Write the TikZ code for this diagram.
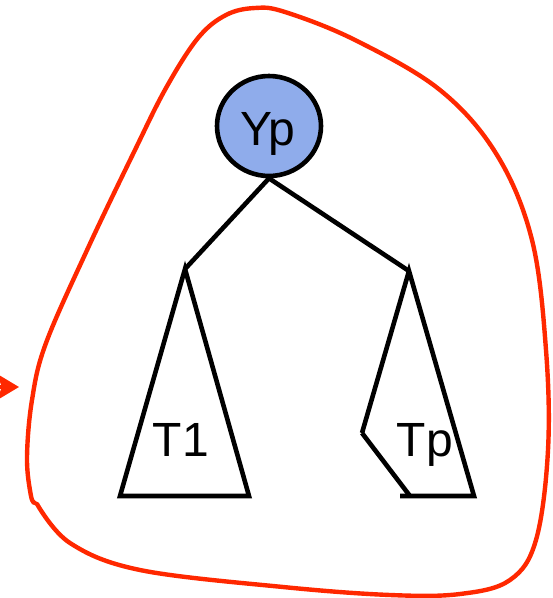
\documentclass[tikz,border=0pt]{standalone}
\usepackage{fontspec}
\setmainfont{Liberation Sans}
\usetikzlibrary{shapes.geometric,arrows.meta}
\definecolor{blobred}{RGB}{255,40,0}
\definecolor{nodeblue}{RGB}{143,172,235}
\begin{document}
\begin{tikzpicture}[x=1pt,y=-1pt,
  edge/.style={draw=black,line width=4.6pt},
  rootnode/.style={ellipse,draw=black,line width=4.6pt,fill=nodeblue,minimum width=104pt,minimum height=100pt,inner sep=0pt},
  lbl/.style={font=\fontsize{48}{56}\selectfont,inner sep=0pt,anchor=base},
  blob/.style={draw=blobred,line width=4.4pt,line cap=round}]
\useasboundingbox (0,0) rectangle (553,598);
% red outline
\draw[blob] plot[smooth,tension=0.6] coordinates {
 (37,504) (70,543) (140,570) (283,587) (390,595) (460,594) (510,580) (536,540)
 (548,450) (546,350) (532,240) (497,155) (440,90) (355,40) (285,12) (255,8)
 (226,15) (198,38) (166,88) (134,152) (88,248) (46,343) (32,400) (27,458) (31,496) (35,503)};
% red arrow from the left
\coordinate (arrS) at (-40,387);
\coordinate (arrE) at (19,387);
\draw[blobred,line width=4pt,-{Stealth[length=22pt,width=26pt,inset=5pt]}] (arrS) -- (arrE);
% root
\node[rootnode] (yp) at (269,126) {};
\node[lbl] (yptext) at (268,145) {Yp};
\coordinate (la) at (185,269);
\coordinate (ra) at (409,271);
\draw[edge] (yp.south) -- (la);
\draw[edge] (yp.south) -- (ra);
% T1 triangle
\coordinate (lbl1) at (120,496);
\coordinate (lbr1) at (249,496);
\draw[edge] (la) -- (lbl1) -- (lbr1) -- cycle;
% Tp shape
\coordinate (tpk) at (362,433);
\coordinate (tpb) at (410,496);
\coordinate (tpbl) at (400,496);
\coordinate (tpbr) at (474,496);
\draw[edge] (tpk) -- (ra) -- (tpbr) -- (tpbl);
\draw[edge] (tpk) -- (tpb);
\node[lbl] (t1) at (181,456.5) {T1};
\node[lbl] (tp) at (425,456.5) {Tp};
\end{tikzpicture}
\end{document}
